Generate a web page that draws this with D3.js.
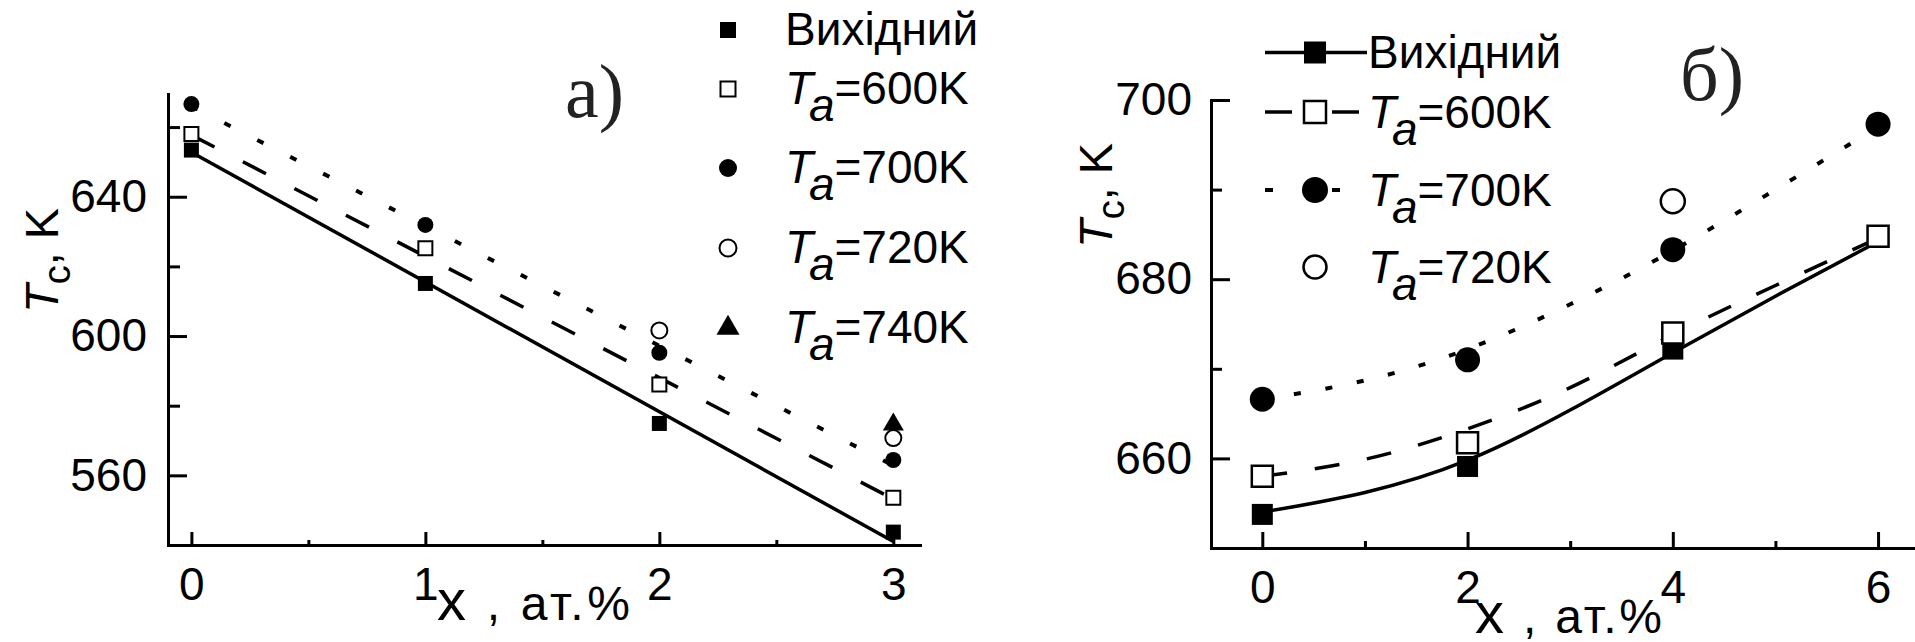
<!DOCTYPE html>
<html>
<head>
<meta charset="utf-8">
<script src="https://cdn.jsdelivr.net/npm/d3@7"></script>
<style>
  body { margin: 0; background: #fff; }
  svg { display: block; font-family: "Liberation Sans", Arial, sans-serif; }
  .axis path, .axis line { stroke: #000; stroke-width: 3; }
  .axis text { font-size: 46px; font-family: "Liberation Sans", Arial, sans-serif; fill: #000; }
  .lbl { font-size: 46px; fill: #000; }
  .panel-tag { font-family: "Liberation Serif", "Times New Roman", serif; font-size: 76px; fill: #222; }
</style>
</head>
<body>
<svg id="chart" width="1915" height="642"></svg>
<script>

// ---------- panel a) : Tc vs x, linear fits ----------
var xA = [0, 1, 2, 3];
var tcA_orig = [653.4, 615.1, 574.9, 543.7];
var tcA_600 = [658.0, 625.2, 586.1, 553.6];
var tcA_700 = [666.6, 631.9, 595.2, 564.4];
var xA_720 = [2, 3];
var tcA_720 = [601.6, 570.7];
var xA_740 = [3];
var tcA_740 = [574.6];

// fit lines, read at both ends (x = 0 and x = 3)
var fitXA = [0, 3];
var fitA_orig = [652.8, 541.0];
var fitA_600 = [657.7, 553.2];
var fitA_700 = [666.0, 562.8];

var ticksXA = [0, 1, 2, 3];
var minorXA = [0.5, 1.5, 2.5];
var ticksYA = [560, 600, 640];
var minorYA = [580, 620, 660];

// ---------- panel б) : Tc vs x, smooth curves ----------
var xB = [0, 2, 4, 6];
var tcB_orig = [653.75, 659.1, 672.2, 684.7];
var tcB_600 = [658.0, 661.75, 674.0, 684.8];
var tcB_700 = [666.6, 671.0, 683.3, 697.3];
var xB_720 = [4];
var tcB_720 = [688.7];

// curves at integer x
var curveXB = [0, 1, 2, 3, 4, 5, 6];
var curveB_orig = [654.0, 656.2, 659.8, 665.4, 671.8, 678.1, 684.2];
var curveB_600 = [658.0, 659.9, 663.3, 667.9, 673.8, 679.3, 684.6];
var curveB_700 = [666.6, 668.7, 672.2, 677.2, 683.2, 690.0, 697.0];

var ticksXB = [0, 2, 4, 6];
var minorXB = [1, 3, 5];
var ticksYB = [660, 680, 700];
var minorYB = [670, 690];

var legendA = ['Вихідний', '600K', '700K', '720K', '740K'];
var legendB = ['Вихідний', '600K', '700K', '720K'];

var svg = d3.select('#chart');

// make a marker path of given kind with visible width s
function symbolPath(kind, s) {
  var type = { square: d3.symbolSquare, circle: d3.symbolCircle, triangle: d3.symbolTriangle }[kind];
  var area;
  if (kind === 'square') area = s * s;
  else if (kind === 'circle') area = Math.PI * s * s / 4;
  else area = s * s * Math.sqrt(3) / 4;
  return d3.symbol().type(type).size(area)();
}

function drawMarker(g, kind, open, s, strokeW, cx, cy) {
  g.append('path')
    .attr('d', symbolPath(kind, s))
    .attr('transform', 'translate(' + cx + ',' + cy + ')')
    .attr('fill', open ? '#fff' : '#000')
    .attr('stroke', '#000')
    .attr('stroke-width', open ? strokeW : 0);
}

// "T_a=600K" style label
function subLabel(sel, main, sub, rest, dy) {
  sel.append('tspan').style('font-style', 'italic').text(main);
  sel.append('tspan').style('font-style', 'italic').attr('dy', dy).text(sub);
  sel.append('tspan').attr('dy', -dy).text(rest);
}

function drawAxes(g, x, y, o) {
  var y0 = y.range()[0], x0 = x.range()[0];
  g.append('g').attr('class', 'axis')
    .attr('transform', 'translate(0,' + y0 + ')')
    .call(d3.axisBottom(x).tickValues(o.xt).tickSizeInner(-o.xMaj).tickSizeOuter(0)
      .tickPadding(o.xPad).tickFormat(d3.format('d')));
  g.append('g').attr('class', 'axis')
    .attr('transform', 'translate(0,' + y0 + ')')
    .call(d3.axisBottom(x).tickValues(o.xm).tickSizeInner(-o.xMin).tickSizeOuter(0).tickFormat(''))
    .select('.domain').remove();
  g.append('g').attr('class', 'axis')
    .attr('transform', 'translate(' + x0 + ',0)')
    .call(d3.axisLeft(y).tickValues(o.yt).tickSizeInner(-o.yMaj).tickSizeOuter(0)
      .tickPadding(o.yPad).tickFormat(d3.format('d')));
  g.append('g').attr('class', 'axis')
    .attr('transform', 'translate(' + x0 + ',0)')
    .call(d3.axisLeft(y).tickValues(o.ym).tickSizeInner(-o.yMin).tickSizeOuter(0).tickFormat(''))
    .select('.domain').remove();
  g.selectAll('.domain').attr('stroke-linecap', 'square');
}

function yTitle(g, bx, by) {
  var t = g.append('text').attr('class', 'lbl')
    .attr('transform', 'translate(' + bx + ',' + by + ') rotate(-90)')
    .style('font-size', '47px');
  t.append('tspan').style('font-style', 'italic').text('T');
  t.append('tspan').attr('dy', 12).style('font-size', '38px').text('c');
  t.append('tspan').attr('dy', -12).text(', K');
}

function xTitle(g, x0, by, len) {
  var t = g.append('text').attr('class', 'lbl')
    .attr('x', x0).attr('y', by)
    .attr('textLength', len).attr('lengthAdjust', 'spacing');
  t.append('tspan').style('font-size', '58px').text('x');
  t.append('tspan').style('font-size', '48px').text(' , ат.%');
}

// ================= panel a) =================
function drawPanelA() {
  var g = svg.append('g');
  var x = d3.scaleLinear().domain([-0.1, 3.114]).range([168, 920]);
  var y = d3.scaleLinear().domain([540, 669.5]).range([545, 94]);

  drawAxes(g, x, y, { xt: ticksXA, xm: minorXA, yt: ticksYA, ym: minorYA,
    xMaj: 13, xMin: 5, yMaj: 19, yMin: 12, xPad: 22, yPad: 21 });

  var line = d3.line().x(d => x(d[0])).y(d => y(d[1]));
  var fits = [
    { v: fitA_orig, dash: null, w: 3.5 },
    { v: fitA_600, dash: '26,32', w: 3.5 },
    { v: fitA_700, dash: '7,30', w: 4 }
  ];
  fits.forEach(function(f) {
    g.append('path')
      .attr('d', line(d3.zip(fitXA, f.v)))
      .attr('fill', 'none').attr('stroke', '#000')
      .attr('stroke-width', f.w)
      .attr('stroke-dasharray', f.dash);
  });

  var series = [
    { xs: xA, ys: tcA_orig, kind: 'square', open: false, s: 15 },
    { xs: xA, ys: tcA_700, kind: 'circle', open: false, s: 16 },
    { xs: xA_740, ys: tcA_740, kind: 'triangle', open: false, s: 21 },
    { xs: xA, ys: tcA_600, kind: 'square', open: true, s: 14 },
    { xs: xA_720, ys: tcA_720, kind: 'circle', open: true, s: 16 }
  ];
  series.forEach(function(s) {
    d3.zip(s.xs, s.ys).forEach(function(p) {
      drawMarker(g, s.kind, s.open, s.s, 2, x(p[0]), y(p[1]));
    });
  });

  // legend (markers only)
  var rows = [30, 89, 168, 248, 328];
  var legMarks = [
    { kind: 'square', open: false, s: 16 },
    { kind: 'square', open: true, s: 15 },
    { kind: 'circle', open: false, s: 18 },
    { kind: 'circle', open: true, s: 17 },
    { kind: 'triangle', open: false, s: 23 }
  ];
  legendA.forEach(function(name, i) {
    var m = legMarks[i];
    drawMarker(g, m.kind, m.open, m.s, 2, 728, rows[i]);
    var t = g.append('text').attr('class', 'lbl').attr('x', 785).attr('y', rows[i] + 15);
    if (i === 0) t.text(name);
    else subLabel(t, 'T', 'a', '=' + name, 17);
  });

  g.append('text').attr('class', 'panel-tag').attr('x', 565).attr('y', 117).text('a)');

  yTitle(g, 58, 313);
  xTitle(g, 437, 620, 193);
}

// ================= panel б) =================
function drawPanelB() {
  var g = svg.append('g');
  var x = d3.scaleLinear().domain([-0.5, 6.36]).range([1211, 1915]);
  var y = d3.scaleLinear().domain([650, 700]).range([548, 100]);

  drawAxes(g, x, y, { xt: ticksXB, xm: minorXB, yt: ticksYB, ym: minorYB,
    xMaj: 16, xMin: 7, yMaj: 19, yMin: 11, xPad: 22, yPad: 19 });

  var line = d3.line().x(d => x(d[0])).y(d => y(d[1])).curve(d3.curveNatural);
  var curves = [
    { v: curveB_orig, dash: null, w: 3.5 },
    { v: curveB_600, dash: '25,28', w: 3.5 },
    { v: curveB_700, dash: '7,25', w: 4 }
  ];
  curves.forEach(function(c) {
    g.append('path')
      .attr('d', line(d3.zip(curveXB, c.v)))
      .attr('fill', 'none').attr('stroke', '#000')
      .attr('stroke-width', c.w)
      .attr('stroke-dasharray', c.dash);
  });

  var series = [
    { xs: xB, ys: tcB_orig, kind: 'square', open: false, s: 21 },
    { xs: xB, ys: tcB_700, kind: 'circle', open: false, s: 25 },
    { xs: xB, ys: tcB_600, kind: 'square', open: true, s: 21 },
    { xs: xB_720, ys: tcB_720, kind: 'circle', open: true, s: 24 }
  ];
  series.forEach(function(s) {
    d3.zip(s.xs, s.ys).forEach(function(p) {
      drawMarker(g, s.kind, s.open, s.s, 2.5, x(p[0]), y(p[1]));
    });
  });

  // legend with line samples
  var rows = [52.5, 112, 190, 267];
  var legMarks = [
    { kind: 'square', open: false, s: 22, dash: null, x2: 1367 },
    { kind: 'square', open: true, s: 22, dash: '27,40', x2: 1359 },
    { kind: 'circle', open: false, s: 26, dash: '8,59', x2: 1341 },
    { kind: 'circle', open: true, s: 23, dash: null, x2: null }
  ];
  legendB.forEach(function(name, i) {
    var m = legMarks[i];
    if (m.x2 !== null) {
      g.append('line')
        .attr('x1', 1265).attr('x2', m.x2)
        .attr('y1', rows[i]).attr('y2', rows[i])
        .attr('stroke', '#000').attr('stroke-width', i === 2 ? 4 : 3.5)
        .attr('stroke-dasharray', m.dash);
    }
    drawMarker(g, m.kind, m.open, m.s, 2.5, 1315, rows[i]);
    var t = g.append('text').attr('class', 'lbl').attr('x', 1368).attr('y', rows[i] + 15.5);
    if (i === 0) t.text(name);
    else subLabel(t, 'T', 'a', '=' + name, 17);
  });

  g.append('text').attr('class', 'panel-tag').attr('x', 1680).attr('y', 100).text('б)');

  yTitle(g, 1112, 248);
  xTitle(g, 1475, 633, 187);
}

drawPanelA();
drawPanelB();
</script>
</body>
</html>
